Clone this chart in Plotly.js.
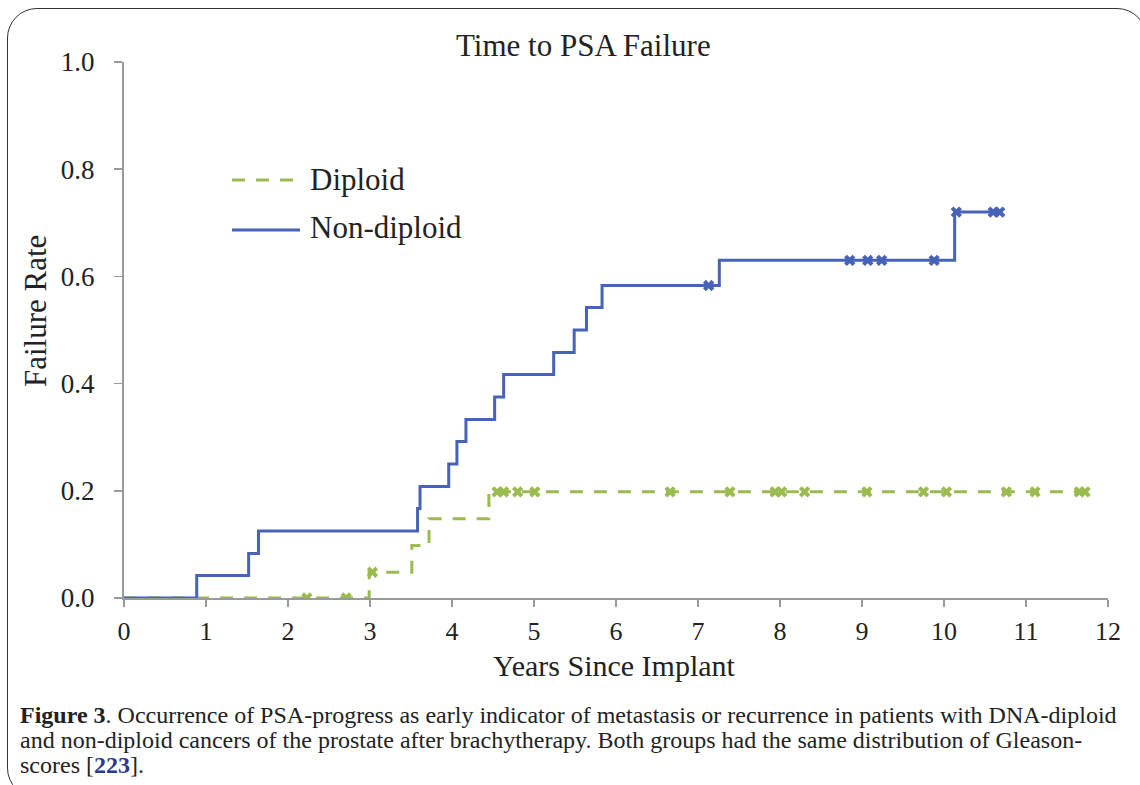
<!DOCTYPE html>
<html>
<head>
<meta charset="utf-8">
<script src="https://cdn.plot.ly/plotly-3.0.1.min.js"></script>
<style>
  html, body { margin:0; padding:0; background:#fff; width:1140px; height:785px; overflow:hidden; }
  #frame { position:absolute; left:7px; top:8px; width:1140px; height:790px; border:1.5px solid #333; border-radius:30px; box-sizing:border-box; }
  #chart { position:absolute; left:0; top:0; width:1140px; height:785px; }
</style>
</head>
<body>
<div id="frame"></div>
<div id="chart"></div>
<script>
// ---- Data ----
const nonDiploidTime = [0, 0.887, 1.52, 1.64, 3.58, 3.61, 3.96, 4.06, 4.17, 4.52, 4.63, 5.24, 5.49, 5.64, 5.83, 7.26, 10.13, 10.68];
const nonDiploidRate = [0, 0.042, 0.083, 0.125, 0.167, 0.208, 0.25, 0.292, 0.333, 0.375, 0.417, 0.458, 0.5, 0.542, 0.583, 0.63, 0.72, 0.72];
const nonDiploidCensorTime = [7.13, 8.85, 9.07, 9.24, 9.88, 10.15, 10.6, 10.68];
const nonDiploidCensorRate = [0.583, 0.63, 0.63, 0.63, 0.63, 0.72, 0.72, 0.72];

const diploidTime = [0, 2.99, 3.51, 3.72, 4.45, 11.72];
const diploidRate = [0, 0.048, 0.098, 0.148, 0.198, 0.198];
const diploidCensorTime = [2.23, 2.71, 3.03, 4.55, 4.63, 4.80, 5.01, 6.66, 7.39, 7.94, 8.02, 8.30, 9.06, 9.75, 10.03, 10.76, 11.11, 11.65, 11.72];
const diploidCensorRate = [0, 0, 0.048, 0.198, 0.198, 0.198, 0.198, 0.198, 0.198, 0.198, 0.198, 0.198, 0.198, 0.198, 0.198, 0.198, 0.198, 0.198, 0.198];

const xTicks = [0,1,2,3,4,5,6,7,8,9,10,11,12];
const yTicks = [0, 0.2, 0.4, 0.6, 0.8, 1.0];
const seriesNames = ['Diploid', 'Non-diploid'];
const captionLines = [
  '<b>Figure 3</b>. Occurrence of PSA-progress as early indicator of metastasis or recurrence in patients with DNA-diploid',
  'and non-diploid cancers of the prostate after brachytherapy. Both groups had the same distribution of Gleason-',
  'scores [<b><span style="color:#2B3A8C">223</span></b>].'
];

const BLUE = '#4763B8';
const GREEN = '#9BBB4F';
const FONT = 'Liberation Serif, Times New Roman, serif';

const traces = [
  { x: diploidTime, y: diploidRate, mode: 'lines', line: { shape: 'hv', color: GREEN, width: 3, dash: '13px,11px' }, name: seriesNames[0], hoverinfo: 'skip' },
  { x: diploidCensorTime, y: diploidCensorRate, mode: 'markers', marker: { symbol: 'x', size: 10, color: GREEN, line: { width: 0 } }, showlegend: false, hoverinfo: 'skip' },
  { x: nonDiploidTime, y: nonDiploidRate, mode: 'lines', line: { shape: 'hv', color: BLUE, width: 3 }, name: seriesNames[1], hoverinfo: 'skip' },
  { x: nonDiploidCensorTime, y: nonDiploidCensorRate, mode: 'markers', marker: { symbol: 'x', size: 10, color: BLUE, line: { width: 0 } }, showlegend: false, hoverinfo: 'skip' }
];

// pixel -> paper helpers (plot area 124..1108 x, 62..598 y)
const L = 124, R = 1108, T = 62, B = 598;
const px = v => (v - L) / (R - L);
const py = v => (B - v) / (B - T);

const annotations = [
  { text: 'Time to PSA Failure', xref: 'paper', yref: 'paper', x: px(583), y: py(45), xanchor: 'center', yanchor: 'middle', showarrow: false, font: { family: FONT, size: 31, color: '#222' } },
  { text: 'Years Since Implant', xref: 'paper', yref: 'paper', x: px(614), y: py(665), xanchor: 'center', yanchor: 'middle', showarrow: false, font: { family: FONT, size: 30, color: '#222' } },
  { text: 'Failure Rate', xref: 'paper', yref: 'paper', x: px(35), y: py(311), xanchor: 'center', yanchor: 'middle', textangle: -90, showarrow: false, font: { family: FONT, size: 31, color: '#222' } },
  { text: seriesNames[0], xref: 'paper', yref: 'paper', x: px(308), y: py(179), xanchor: 'left', yanchor: 'middle', showarrow: false, font: { family: FONT, size: 31, color: '#222' } },
  { text: seriesNames[1], xref: 'paper', yref: 'paper', x: px(308), y: py(228), xanchor: 'left', yanchor: 'middle', showarrow: false, font: { family: FONT, size: 31, color: '#222' } }
];
captionLines.forEach((t, i) => {
  annotations.push({ text: t, xref: 'paper', yref: 'paper', x: px(18), y: py(715 + 25 * i), xanchor: 'left', yanchor: 'middle', align: 'left', showarrow: false, font: { family: FONT, size: 24, color: '#222' } });
});

const layout = {
  width: 1140, height: 785,
  margin: { l: L, r: 1140 - R, t: T, b: 785 - B, pad: 0 },
  paper_bgcolor: 'rgba(0,0,0,0)',
  plot_bgcolor: 'rgba(0,0,0,0)',
  showlegend: false,
  font: { family: FONT, color: '#222', size: 26 },
  xaxis: {
    range: [0, 12], tickvals: xTicks, ticktext: xTicks.map(String),
    showgrid: false, zeroline: false, showline: true, linecolor: '#9a9a9a', linewidth: 2,
    ticks: 'outside', ticklen: 7, tickcolor: '#9a9a9a', tickwidth: 1.5,
    tickfont: { family: FONT, size: 26, color: '#222' }, ticklabelstandoff: 2,
    fixedrange: true
  },
  yaxis: {
    range: [0, 1.0], tickvals: yTicks, ticktext: yTicks.map(v => v.toFixed(1)),
    showgrid: false, zeroline: false, showline: true, linecolor: '#9a9a9a', linewidth: 2,
    ticks: 'outside', ticklen: 8, tickcolor: '#9a9a9a', tickwidth: 1.5,
    tickfont: { family: FONT, size: 27, color: '#222' }, ticklabelstandoff: 14,
    fixedrange: true
  },
  shapes: [
    { type: 'line', xref: 'paper', yref: 'paper', x0: px(232), x1: px(300), y0: py(180), y1: py(180), line: { color: GREEN, width: 3, dash: '13px,11px' } },
    { type: 'line', xref: 'paper', yref: 'paper', x0: px(232), x1: px(300), y0: py(230), y1: py(230), line: { color: BLUE, width: 3 } }
  ],
  annotations: annotations
};

Plotly.newPlot('chart', traces, layout, { staticPlot: true, displayModeBar: false });
</script>
</body>
</html>
